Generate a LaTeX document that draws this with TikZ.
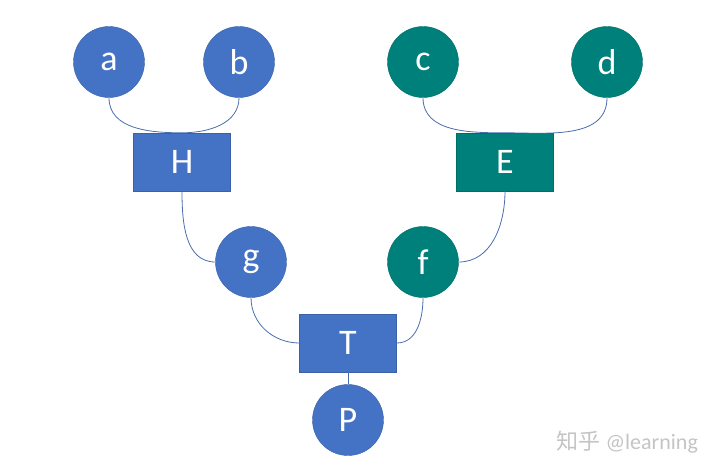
\documentclass[tikz,border=0pt]{standalone}
\usepackage{fontspec}
\setmainfont{Carlito}
\newfontfamily\cjkfont{Noto Sans CJK SC}
\usepackage{tikz}
\usetikzlibrary{positioning}
\definecolor{office}{HTML}{4472C4}
\definecolor{teal}{HTML}{00807A}
\definecolor{wire}{HTML}{4A6DB0}
\definecolor{mark}{HTML}{C4C4C4}
\tikzset{
  leaf/.style={circle,fill=#1,draw=#1!85!black,line width=0.4pt,minimum size=71pt,inner sep=0pt,
    text=white,font=\fontsize{36}{36}\selectfont},
  leaf/.default=office,
  gate/.style={rectangle,fill=#1,draw=#1!85!black,line width=0.4pt,minimum width=97pt,minimum height=58pt,
    inner sep=0pt,text=white,font=\fontsize{36}{36}\selectfont},
  gate/.default=office,
  wireline/.style={draw=wire,line width=0.8pt},
}

\begin{document}
\begin{tikzpicture}[x=1pt,y=-1pt]
  \useasboundingbox (0,0) rectangle (720,475);
  % top row
  \node[leaf] (a) at (109,62) {a};
  \node[leaf] (b) at (239,62) {b};
  \node[leaf=teal] (c) at (423,62) {c};
  \node[leaf=teal] (d) at (607,62) {d};
  % gates
  \node[gate] (H) at (182,162) {H};
  \node[gate=teal] (E) at (505,162) {E};
  % middle row
  \node[leaf] (g) at (251,262) {g};
  \node[leaf=teal] (f) at (423,262) {f};
  % bottom
  \node[gate] (T) at (348,343) {T};
  \node[leaf] (P) at (348,420) {P};
  % connectors
  \foreach \a/\b/\ang in {a/H.north/180,b/H.north/0,c/E.north/180,d/E.north/0,
                          H/g.west/180,E/f.east/0,g/T.west/180,f/T.east/0}
    \draw[wireline] (\a.south) to[out=-90,in=\ang] (\b);
  \draw[wireline] (T.south) -- (P.north);
  % watermark
  \node[font=\fontsize{22}{22}\selectfont,text=mark,anchor=west] (wm) at (553,442) {{\cjkfont 知乎} @learning};
\end{tikzpicture}
\end{document}
